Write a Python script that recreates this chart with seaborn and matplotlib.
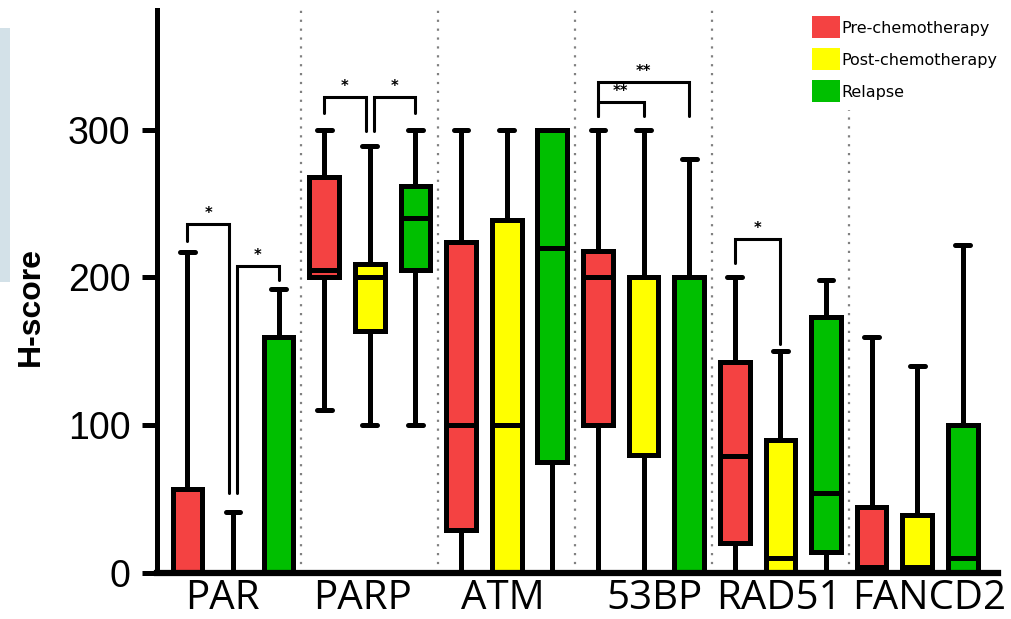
import numpy as np
import pandas as pd
import matplotlib
matplotlib.use("Agg")
import matplotlib.pyplot as plt
from matplotlib.patches import Patch, Rectangle
import seaborn as sns

# ---- data -----------------------------------------------------------------
genes = ["PAR", "PARP", "ATM", "53BP", "RAD51", "FANCD2"]
conditions = ["Pre-chemotherapy", "Post-chemotherapy", "Relapse"]
colors = ["#f44242", "#ffff00", "#00bf00"]

# five-number summaries of the H-score (min, Q1, median, Q3, max) per gene
pre_chemo = [
    [0, 0, 0, 57, 217],
    [110, 200, 205, 268, 300],
    [0, 29, 100, 224, 300],
    [0, 100, 200, 218, 300],
    [0, 20, 79, 143, 200],
    [0, 0, 4, 45, 160],
]
post_chemo = [
    [0, 0, 0, 0, 41],
    [100, 164, 200, 209, 289],
    [0, 0, 100, 239, 300],
    [0, 80, 200, 200, 300],
    [0, 0, 10, 90, 150],
    [0, 0, 4, 39, 140],
]
relapse = [
    [0, 0, 0, 160, 192],
    [100, 205, 240, 262, 300],
    [0, 75, 220, 300, 300],
    [0, 0, 0, 200, 280],
    [0, 14, 54, 173, 198],
    [0, 0, 10, 100, 222],
]

# significance brackets: gene, left/right condition index, bracket height,
# bottom of left leg, bottom of right leg, label
brackets = [
    ("PAR", 0, 1, 236, 225, 54, "*"),
    ("PAR", 1, 2, 208, 54, 198, "*"),
    ("PARP", 0, 1, 322, 311, 299, "*"),
    ("PARP", 1, 2, 322, 299, 311, "*"),
    ("53BP", 0, 2, 332, 309, 309, "**"),
    ("53BP", 0, 1, 319, 309, 309, "**"),
    ("RAD51", 0, 1, 226, 210, 155, "*"),
]

y_ticks = [0, 100, 200, 300]

# ---- long-form table: the five summary values reproduce each box exactly --
rows = []
for cond, table in zip(conditions, [pre_chemo, post_chemo, relapse]):
    for gene, summary in zip(genes, table):
        for v in summary:
            rows.append({"gene": gene, "condition": cond, "score": v})
df = pd.DataFrame(rows)

# ---- figure ---------------------------------------------------------------
sns.set_style("ticks")
plt.rcParams["font.family"] = ["Liberation Sans", "DejaVu Sans"]
plt.rcParams.update({
    "text.color": "black", "axes.labelcolor": "black",
    "xtick.color": "black", "ytick.color": "black",
    "axes.edgecolor": "black",
})

fig = plt.figure(figsize=(10.12, 6.19), dpi=100)
ax = fig.add_axes([157 / 1012, 46 / 619, 841 / 1012, 563 / 619])

lw = 3.6
sns.boxplot(
    data=df, x="gene", y="score", hue="condition",
    order=genes, hue_order=conditions, palette=colors,
    saturation=1, width=1.0, gap=0.35, whis=(0, 100),
    linewidth=lw, linecolor="black", fliersize=0,
    legend=False, ax=ax, zorder=3,
)

# dotted separators between gene groups
for b in np.arange(0.5, len(genes) - 0.5, 1.0):
    ax.axvline(b, color="#808080", lw=1.6, linestyle=(0, (1, 3)), zorder=1)

# significance brackets
offsets = [-1 / 3, 0.0, 1 / 3]
for gene, i, j, top, lb, rb, lab in brackets:
    g = genes.index(gene)
    xl = g + offsets[i]
    xr = g + offsets[j]
    # nudge legs apart where two brackets share a box
    if gene in ("PAR", "PARP"):
        if i == 1:
            xl += 0.03
        if j == 1:
            xr -= 0.03
    ax.plot([xl, xl, xr, xr], [lb, top, top, rb], color="black", lw=2.2,
            solid_joinstyle="miter", zorder=4)
    ax.text((xl + xr) / 2, top + 2, lab, ha="center", va="bottom",
            fontsize=10.5, fontweight="bold", family="DejaVu Sans", zorder=4)

ax.set_xlim(-0.555, len(genes) - 1 + 0.59)
ax.set_ylim(0, 381)
ax.set_yticks(y_ticks)
ax.set_yticklabels([str(t) for t in y_ticks], fontsize=27)

# category names sit slightly off the group centres
label_nudge = [-0.08, -0.05, -0.03, 0.08, -0.01, 0.09]
ax.set_xticks([g + d for g, d in zip(range(len(genes)), label_nudge)])
ax.set_xticklabels(genes, fontsize=29, family="Open Sans")
ax.tick_params(axis="y", length=11, width=3.6, pad=8, direction="out")
ax.tick_params(axis="x", length=0, pad=4)
ax.set_xlabel("")
ax.set_ylabel("H-score", fontsize=23, fontweight="bold")
ax.yaxis.set_label_coords(-0.132, 0.474)

for side in ("top", "right"):
    ax.spines[side].set_visible(False)
ax.spines["left"].set_linewidth(3.6)
ax.spines["bottom"].set_linewidth(4.5)
ax.spines["left"].set_zorder(5)
ax.spines["bottom"].set_zorder(5)

# legend with square colour keys
handles = [Patch(facecolor=c, edgecolor="none", label=l)
           for c, l in zip(colors, conditions)]
leg = ax.legend(
    handles=handles, loc="upper left",
    bbox_to_anchor=(804 / 1012, 1 - 8.4 / 619), bbox_transform=fig.transFigure,
    prop={"family": "DejaVu Sans", "size": 11.5},
    handlelength=1.75, handleheight=1.75, handletextpad=0.1,
    labelspacing=0.62, borderpad=0.5, borderaxespad=0,
    frameon=True, fancybox=False, framealpha=1,
    facecolor="white", edgecolor="none",
)
leg.set_zorder(6)

# pale panel strip along the left margin
fig.patches.append(Rectangle((0, (619 - 282) / 619), 10 / 1012, 254 / 619,
                             transform=fig.transFigure, facecolor="#d3e1e8",
                             edgecolor="none"))

fig.savefig("out.png", dpi=100, facecolor="white")
